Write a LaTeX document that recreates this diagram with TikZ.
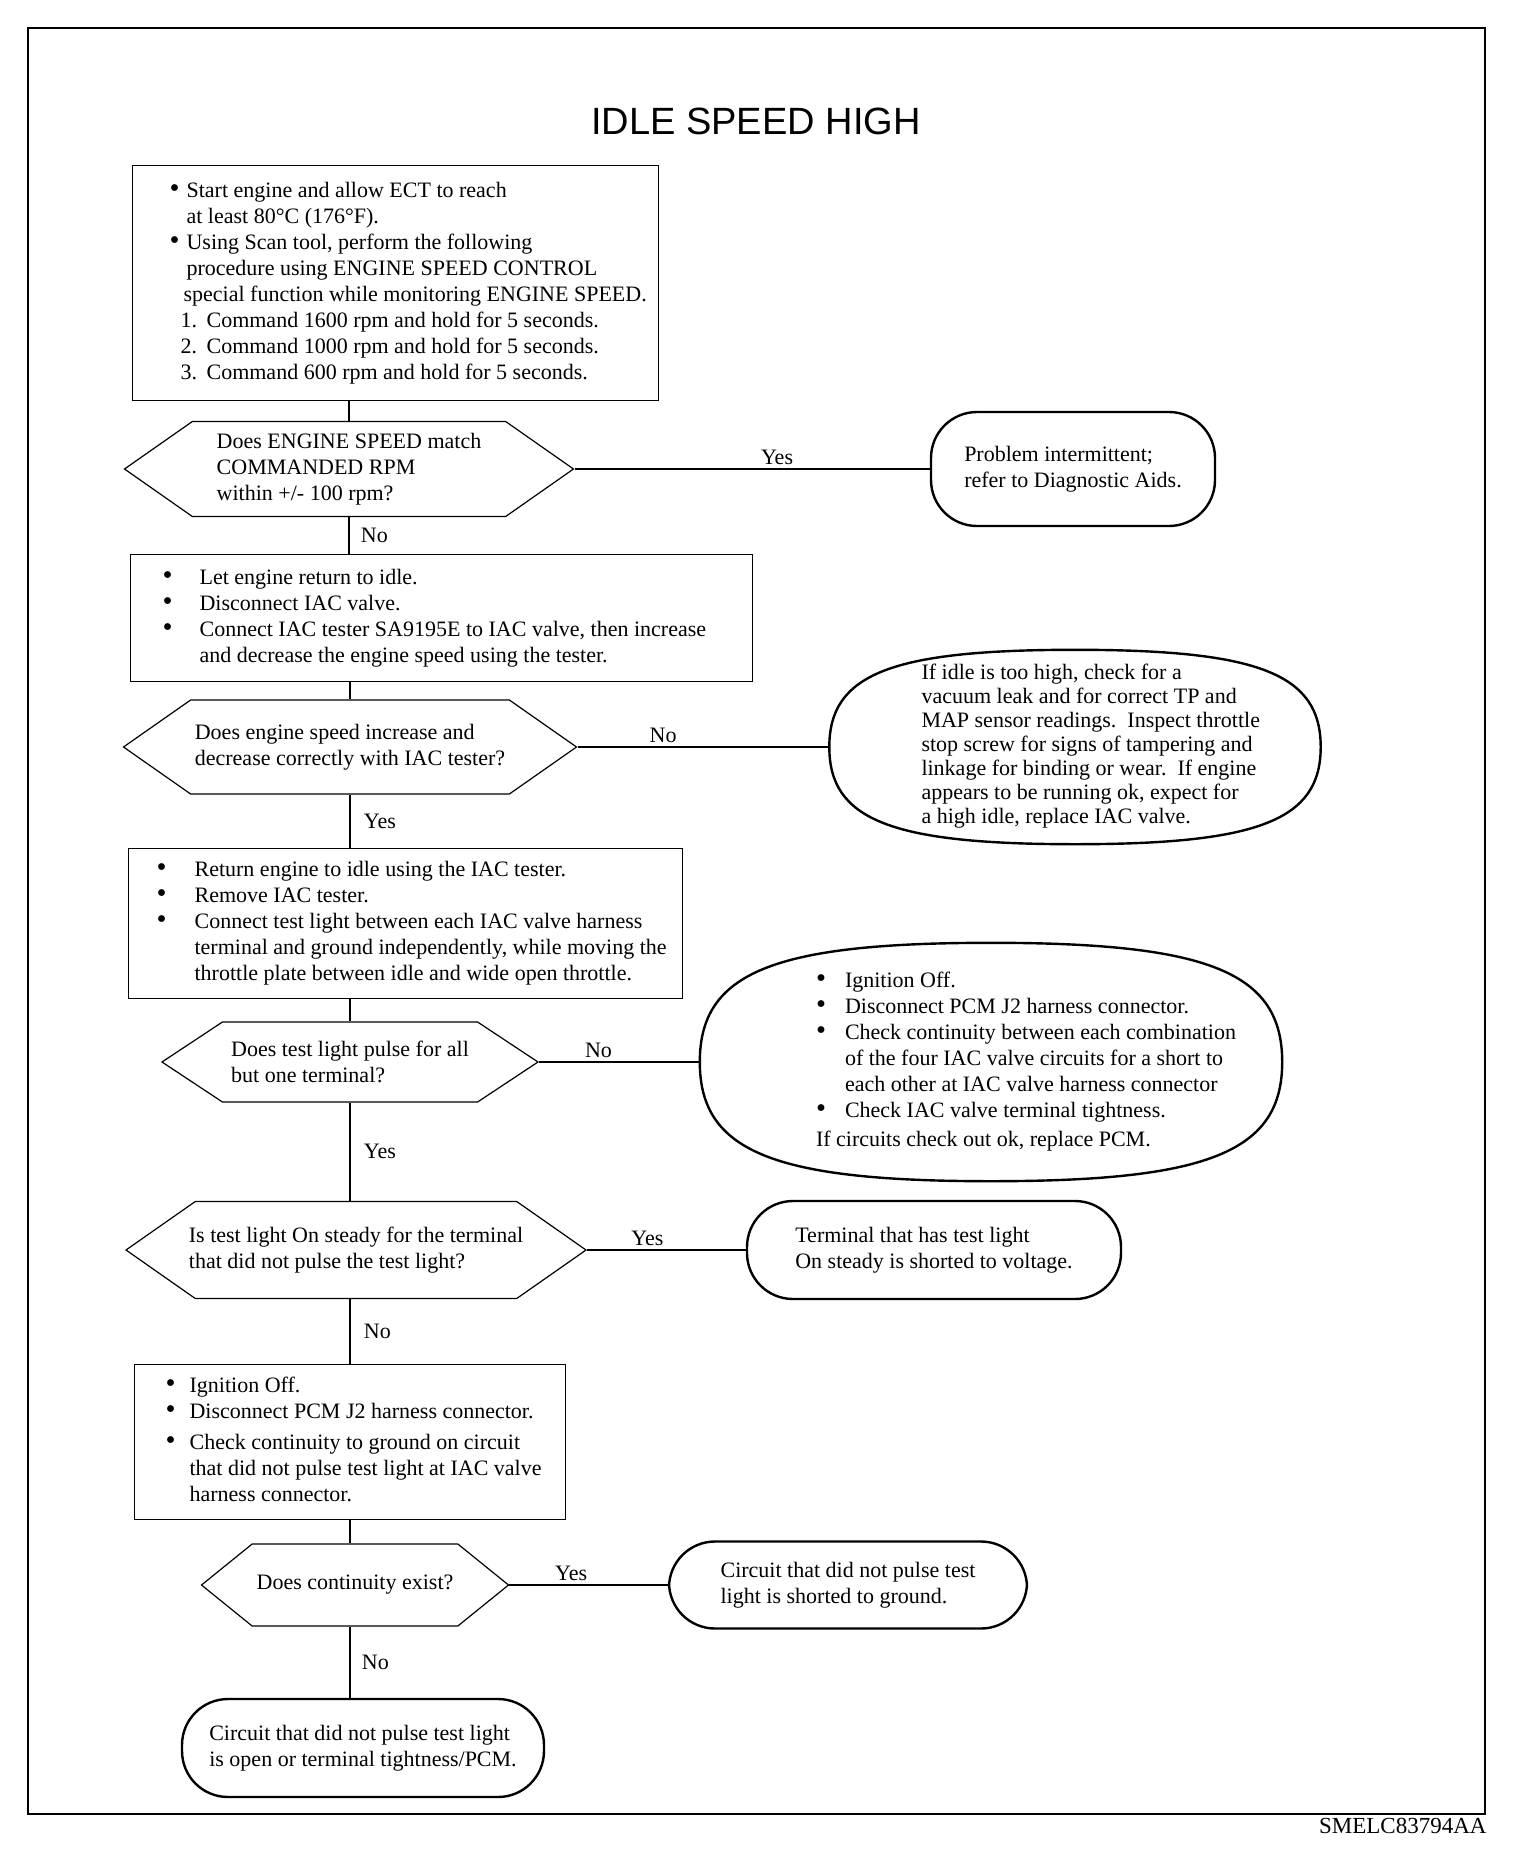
\documentclass[tikz,border=0pt]{standalone}
\usepackage{graphicx}
\usepackage{fontspec}
\setmainfont{Liberation Serif}
\newfontfamily\headfont{Liberation Sans}
\usetikzlibrary{calc, positioning, shapes.symbols}

\newcommand{\bul}[1]{\makebox[#1][l]{\scalebox{1.3}{\textbullet}}}
\newcommand{\stepno}[1]{\hspace*{11pt}\makebox[26pt][l]{#1}}
\newcommand{\inbox}[3]{\makebox[#1][l]{\hspace*{#2}\begin{tabular}{@{}l@{}}#3\end{tabular}}}
\newcommand{\bigoval}[2][0.75]{%
  \draw[endline] (#2.north)
    .. controls ($(#2.north)!#1!(#2.north east)$) and ($(#2.east)!#1!(#2.north east)$) .. (#2.east)
    .. controls ($(#2.east)!#1!(#2.south east)$) and ($(#2.south)!#1!(#2.south east)$) .. (#2.south)
    .. controls ($(#2.south)!#1!(#2.south west)$) and ($(#2.west)!#1!(#2.south west)$) .. (#2.west)
    .. controls ($(#2.west)!#1!(#2.north west)$) and ($(#2.north)!#1!(#2.north west)$) .. cycle;}

\begin{document}
\begin{tikzpicture}[x=1pt, y=-1pt, font=\fontsize{22}{26}\selectfont,
    stepbox/.style={draw, line width=1.2pt, inner sep=0pt, anchor=north west},
    test/.style={draw, line width=1.2pt, signal, signal from=nowhere, signal to=west and east,
      signal pointer angle=70, align=left, inner sep=2pt},
    endbox/.style={draw, line width=2.4pt, rounded corners=46pt, align=left},
    endline/.style={line width=2.4pt},
    notebox/.style={inner sep=0pt},
    link/.style={line width=1.2pt}]
    \useasboundingbox (0,0) rectangle (1520,1854);
    \draw[line width=2.5pt] (28,28) rectangle (1485,1814);

    % Title
    \node[font=\headfont\fontsize{38}{44}\selectfont] (title) at (756,121) {IDLE SPEED HIGH};

    % Warm up and speed check
    \node[stepbox, minimum height=235pt] (box1) at (132,165) {\inbox{526pt}{37pt}{%
      \bul{17pt}Start engine and allow ECT to reach\\
      \hspace*{17pt}at least 80°C (176°F).\\
      \bul{17pt}Using Scan tool, perform the following\\
      \hspace*{17pt}procedure using ENGINE SPEED CONTROL\\
      \hspace*{14pt}special function while monitoring ENGINE SPEED.\\
      \stepno{1.}Command 1600 rpm and hold for 5 seconds.\\
      \stepno{2.}Command 1000 rpm and hold for 5 seconds.\\
      \stepno{3.}Command 600 rpm and hold for 5 seconds.}};

    \node[test, minimum width=449pt, minimum height=95pt] (hex1) at (349,469)
      {Does ENGINE SPEED match\\COMMANDED RPM\\within +/- 100 rpm?};
    \node[endbox, minimum width=284pt, minimum height=114pt] (oval1) at (1073,469)
      {Problem intermittent;\\refer to Diagnostic Aids.};

    % IAC tester
    \node[stepbox, minimum height=127pt] (box2) at (130,554) {\inbox{622pt}{32pt}{%
      \bul{37pt}Let engine return to idle.\\
      \bul{37pt}Disconnect IAC valve.\\
      \bul{37pt}Connect IAC tester SA9195E to IAC valve, then increase\\
      \hspace*{37pt}and decrease the engine speed using the tester.}};

    \node[test, minimum width=453pt, minimum height=94pt] (hex2) at (350,747)
      {Does engine speed increase and\\decrease correctly with IAC tester?};
    \node[notebox, minimum height=194pt, font=\fontsize{22}{24}\selectfont] (oval2) at (1075,747) {\inbox{491pt}{92pt}{%
      If idle is too high, check for a\\
      vacuum leak and for correct TP and\\
      MAP sensor readings.\ \ Inspect throttle\\
      stop screw for signs of tampering and\\
      linkage for binding or wear.\ \ If engine\\
      appears to be running ok, expect for\\
      a high idle, replace IAC valve.}};
    \bigoval{oval2}

    % Test light
    \node[stepbox, minimum height=150pt] (box3) at (128,848) {\inbox{554pt}{28pt}{%
      \bul{38pt}Return engine to idle using the IAC tester.\\
      \bul{38pt}Remove IAC tester.\\
      \bul{38pt}Connect test light between each IAC valve harness\\
      \hspace*{38pt}terminal and ground independently, while moving the\\
      \hspace*{38pt}throttle plate between idle and wide open throttle.}};

    \node[test, signal pointer angle=67, minimum width=376pt, minimum height=80pt] (hex3) at (350,1062)
      {Does test light pulse for all\\but one terminal?};
    \node[notebox, minimum height=238pt] (oval3) at (991,1062) {\inbox{582pt}{116pt}{%
      \bul{29pt}Ignition Off.\\
      \bul{29pt}Disconnect PCM J2 harness connector.\\
      \bul{29pt}Check continuity between each combination\\
      \hspace*{29pt}of the four IAC valve circuits for a short to\\
      \hspace*{29pt}each other at IAC valve harness connector\\
      \bul{29pt}Check IAC valve terminal tightness.\\[3pt]
      If circuits check out ok, replace PCM.}};
    \bigoval{oval3}

    \node[test, inner xsep=-7pt, minimum width=460pt, minimum height=97pt] (hex4) at (356,1250)
      {Is test light On steady for the terminal\\that did not pulse the test light?};
    \node[endbox, minimum width=374pt, minimum height=98pt] (oval4) at (934,1250)
      {Terminal that has test light\\On steady is shorted to voltage.};

    % Continuity to ground
    \node[stepbox, minimum height=155pt] (box4) at (134,1364) {\inbox{431pt}{31pt}{%
      \bul{24pt}Ignition Off.\\
      \bul{24pt}Disconnect PCM J2 harness connector.\\[5pt]
      \bul{24pt}Check continuity to ground on circuit\\
      \hspace*{24pt}that did not pulse test light at IAC valve\\
      \hspace*{24pt}harness connector.}};

    \node[test, signal pointer angle=78, minimum width=307pt, minimum height=82pt] (hex5) at (355,1585)
      {Does continuity exist?};
    \node[endbox, minimum width=358pt, minimum height=87pt] (oval5) at (848,1585)
      {Circuit that did not pulse test\\light is shorted to ground.};
    \node[endbox, minimum width=362pt, minimum height=98pt] (oval6) at (363,1748)
      {Circuit that did not pulse test light\\is open or terminal tightness/PCM.};

    % Code
    \node[anchor=east, font=\fontsize{23}{26}\selectfont] (code) at (1490,1826) {SMELC83794AA};

    % Main line
    \draw[link] (box1.south -| hex1.north) -- (hex1.north);
    \draw[link] (hex1.south) -- node[right, xshift=8pt] {No} (hex1.south |- box2.north);
    \draw[link] (box2.south -| hex2.north) -- (hex2.north);
    \draw[link] (hex2.south) -- node[right, xshift=10pt] {Yes} (hex2.south |- box3.north);
    \draw[link] (box3.south -| hex3.north) -- (hex3.north);
    \draw[link] (hex3.south) -- node[right, xshift=10pt] {Yes} (hex3.south |- hex4.north);
    \draw[link] (hex4.south -| hex3.south) -- node[right, xshift=10pt] {No} (box4.north -| hex3.south);
    \draw[link] (box4.south -| hex3.south) -- (hex5.north -| hex3.south);
    \draw[link] (hex5.south -| hex3.south) -- node[right, xshift=8pt] {No} (oval6.north -| hex3.south);

    % Side branches
    \draw[link] (hex1.east) -- node[above, pos=0.57] {Yes} (oval1.west);
    \draw[link] (hex2.east) -- node[above, pos=0.34] {No} (oval2.west);
    \draw[link] (hex3.east) -- node[above, pos=0.37] {No} (oval3.west);
    \draw[link] (hex4.east) -- node[above, pos=0.38] {Yes} (oval4.west);
    \draw[link] (hex5.east) -- node[above, pos=0.39] {Yes} (oval5.west);
\end{tikzpicture}
\end{document}
